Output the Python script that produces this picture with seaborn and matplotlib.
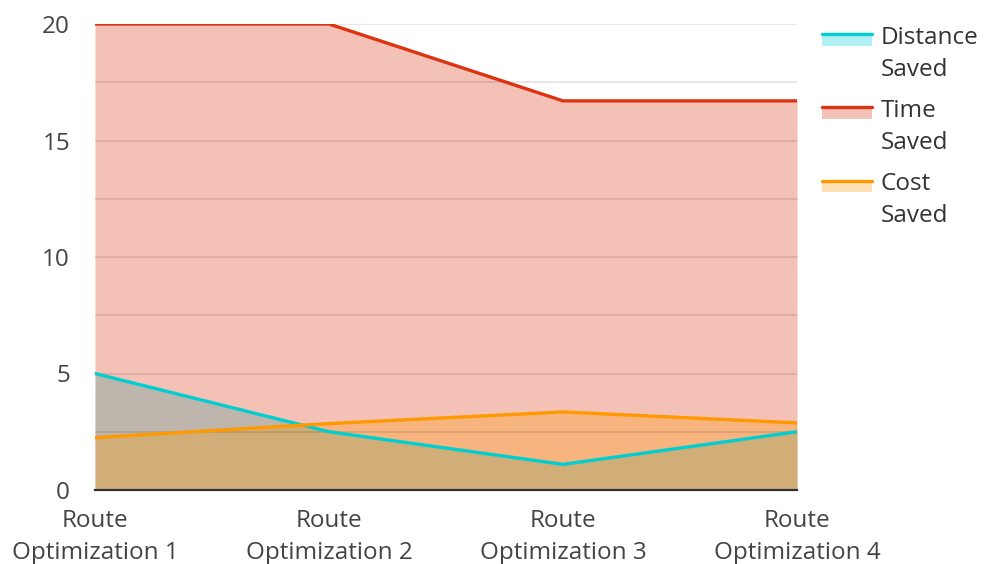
import matplotlib
matplotlib.use("Agg")
import matplotlib.pyplot as plt
import seaborn as sns
import pandas as pd
import numpy as np
from matplotlib.patches import Rectangle
from matplotlib.lines import Line2D
from matplotlib.legend_handler import HandlerBase

categories = ["Route\nOptimization 1", "Route\nOptimization 2", "Route\nOptimization 3", "Route\nOptimization 4"]
distance_saved = [5.0, 2.5, 1.1, 2.5]
time_saved = [20.0, 20.0, 16.7, 16.7]
cost_saved = [2.25, 2.85, 3.35, 2.88]
series_names = ["Distance\nSaved", "Time\nSaved", "Cost\nSaved"]
colors = ["#00CED1", "#DD3311", "#FF9900"]

sns.set_theme(style="white")
plt.rcParams['font.family'] = ['Open Sans', 'DejaVu Sans']

FS = 17.5
LS = 1.43

fig = plt.figure(figsize=(9.86, 5.64), dpi=100)
ax = fig.add_axes([95/986, 1-490/564, (797-95)/986, (490-24)/564])

x = np.arange(len(categories))
series = [distance_saved, time_saved, cost_saved]
for vals, c in zip(series, colors):
    ax.fill_between(x, 0, vals, color=c, alpha=0.3, linewidth=0, zorder=1)

for i in np.arange(0, 20.01, 2.5):
    ax.axhline(i, color="black", alpha=0.1, linewidth=1.3, zorder=2)

df = pd.DataFrame({"x": np.tile(x, 3),
                   "y": np.concatenate(series),
                   "s": np.repeat(series_names, len(x))})
sns.lineplot(data=df, x="x", y="y", hue="s", palette=colors, linewidth=2.4,
             legend=False, ax=ax, zorder=3)

ax.set_xlim(0, 3)
ax.set_ylim(0, 20)
ax.set_xticks(x)
ax.set_xticklabels(categories, linespacing=LS)
ax.set_yticks([0, 5, 10, 15, 20])
ax.tick_params(axis="y", length=0, pad=18, labelsize=FS, labelcolor="#444444")
ax.tick_params(axis="x", length=0, pad=14, labelsize=FS, labelcolor="#444444")
ax.set_xlabel("")
ax.set_ylabel("")
for s in ["top", "right", "left"]:
    ax.spines[s].set_visible(False)
ax.spines["bottom"].set_color("#333333")
ax.spines["bottom"].set_linewidth(1.6)
ax.spines["bottom"].set_zorder(4)


class AreaHandler(HandlerBase):
    def __init__(self, color):
        super().__init__()
        self.color = color

    def create_artists(self, legend, orig_handle, xdescent, ydescent, width, height, fontsize, trans):
        top = height + 8.5
        h = 8.5
        rect = Rectangle((-xdescent, -ydescent + top - h), width, h,
                         facecolor=self.color, alpha=0.3, edgecolor="none", transform=trans)
        line = Line2D([-xdescent, -xdescent + width], [-ydescent + top, -ydescent + top],
                      color=self.color, linewidth=2.4, transform=trans)
        return [rect, line]


handles = [Rectangle((0, 0), 1, 1) for _ in colors]
leg = ax.legend(handles, series_names,
                handler_map={h: AreaHandler(c) for h, c in zip(handles, colors)},
                loc="upper left", bbox_to_anchor=(822/986, 1-26/564), bbox_transform=fig.transFigure,
                frameon=False, fontsize=FS, handlelength=2.05, handleheight=0.7,
                handletextpad=0.35, labelspacing=0.72, borderaxespad=0, borderpad=0)
for t in leg.get_texts():
    t.set_linespacing(LS)
    t.set_color("#333333")

fig.savefig("out.png", dpi=100)
